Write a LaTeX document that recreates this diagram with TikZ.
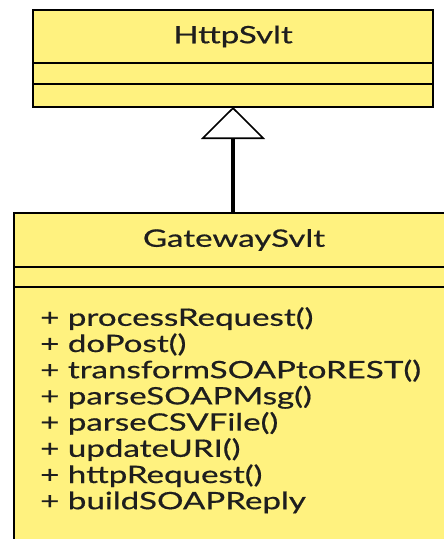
\documentclass[tikz,border=0pt]{standalone}
\usepackage{fontspec}
\setmainfont{Lato}[FakeStretch=1.38, FakeBold=0.6]
\usetikzlibrary{positioning,arrows.meta}
\definecolor{umlyellow}{HTML}{FFF27F}
\definecolor{ink}{HTML}{1E1E1E}

\begin{document}
\begin{tikzpicture}[x=1pt, y=-1pt,
  compart/.style={draw, line width=2.2pt, fill=umlyellow, inner sep=0pt, outer sep=0pt,
    text=ink, font=\fontsize{24}{26}\selectfont},
  inherit/.style={-{Triangle[open, length=32pt, width=64pt, line width=1.6pt]}, line width=3.6pt}]
\useasboundingbox (0,0) rectangle (444,539);
\clip (0,0) rectangle (444,539);

% HttpSvlt class
\node[compart, minimum width=400pt, minimum height=53pt, anchor=north west] (httpname) at (33,10) {HttpSvlt};
\node[compart, minimum width=400pt, minimum height=21pt, below=0pt of httpname] (httpattr) {};
\node[compart, minimum width=400pt, minimum height=23pt, below=0pt of httpattr] (httpops) {};

% GatewaySvlt class (runs off the right and bottom edges)
\node[compart, minimum width=450pt, minimum height=54pt, anchor=north west] (gwname) at (14,213) {\hspace*{-10pt}GatewaySvlt};
\node[compart, minimum width=450pt, minimum height=20pt, below=0pt of gwname] (gwattr) {};
\node[compart, minimum width=450pt, minimum height=280pt, below=0pt of gwattr] (gwops) {};
\node[anchor=north west, align=left, inner sep=0pt, text=ink, font=\fontsize{24}{26.2}\selectfont]
  (gwlist) at ([xshift=26pt, yshift=-20pt]gwops.north west) {%
  + processRequest()\\
  + doPost()\\
  + transformSOAPtoREST()\\
  + parseSOAPMsg()\\
  + parseCSVFile()\\
  + updateURI()\\
  + httpRequest()\\
  + buildSOAPReply};

% Generalisation
\draw[inherit] (gwname.north -| httpops.south) -- (httpops.south);
\end{tikzpicture}
\end{document}
